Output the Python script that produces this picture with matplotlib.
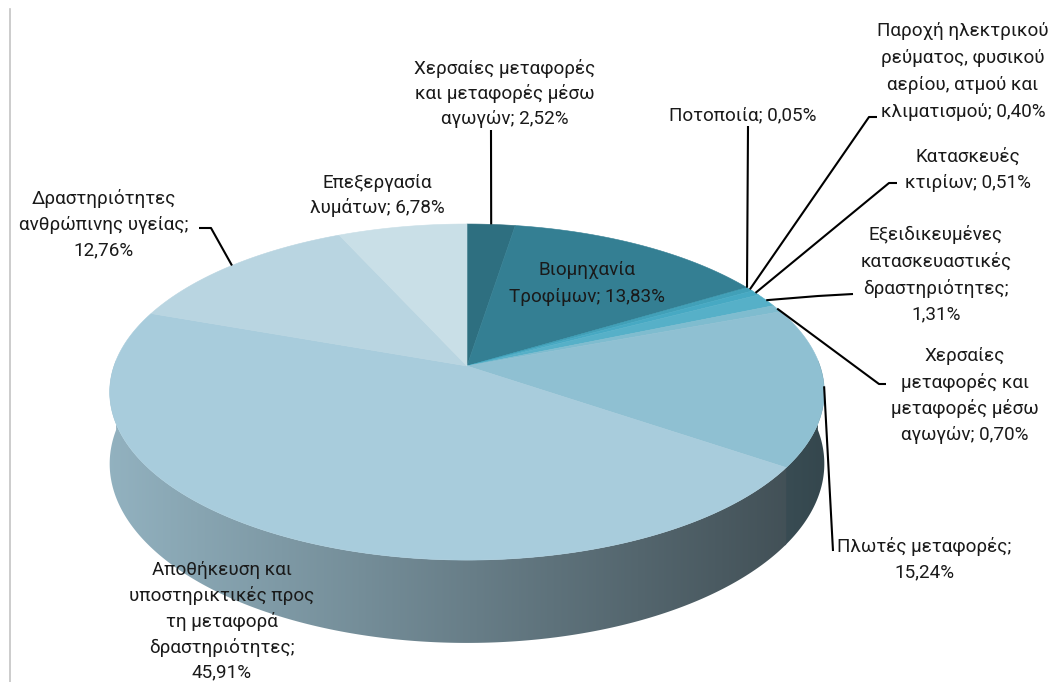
import numpy as np
import matplotlib
matplotlib.use("Agg")
import matplotlib.pyplot as plt
from matplotlib.patches import Polygon
from matplotlib.colors import to_rgb

# ---------------- data ----------------
categories = [
    "Χερσαίες μεταφορές και μεταφορές μέσω αγωγών",
    "Βιομηχανία Τροφίμων",
    "Ποτοποιία",
    "Παροχή ηλεκτρικού ρεύματος, φυσικού αερίου, ατμού και κλιματισμού",
    "Κατασκευές κτιρίων",
    "Εξειδικευμένες κατασκευαστικές δραστηριότητες",
    "Χερσαίες μεταφορές και μεταφορές μέσω αγωγών",
    "Πλωτές μεταφορές",
    "Αποθήκευση και υποστηρικτικές προς τη μεταφορά δραστηριότητες",
    "Δραστηριότητες ανθρώπινης υγείας",
    "Επεξεργασία λυμάτων",
]
values = [2.52, 13.83, 0.05, 0.40, 0.51, 1.31, 0.70, 15.24, 45.91, 12.76, 6.78]
pct_labels = ["2,52%", "13,83%", "0,05%", "0,40%", "0,51%", "1,31%",
              "0,70%", "15,24%", "45,91%", "12,76%", "6,78%"]
colors = ['#2e6f80', '#347f93', '#3c93a9', '#41a0b8', '#47a9c3', '#56b0c8',
          '#7fbccf', '#8fc0d2', '#a8ccdc', '#b9d5e1', '#c9dfe7']

# label text (line breaks as in the reference)
label_lines = [
    ["Χερσαίες μεταφορές", "και μεταφορές μέσω", "αγωγών; 2,52%"],
    ["Βιομηχανία", "Τροφίμων; 13,83%"],
    ["Ποτοποιία; 0,05%"],
    ["Παροχή ηλεκτρικού", "ρεύματος, φυσικού", "αερίου, ατμού και", "κλιματισμού; 0,40%"],
    ["Κατασκευές", "κτιρίων; 0,51%"],
    ["Εξειδικευμένες", "κατασκευαστικές", "δραστηριότητες;", "1,31%"],
    ["Χερσαίες", "μεταφορές και", "μεταφορές μέσω", "αγωγών; 0,70%"],
    ["Πλωτές μεταφορές;", "15,24%"],
    ["Αποθήκευση και", "υποστηρικτικές προς", "τη μεταφορά", "δραστηριότητες;", "45,91%"],
    ["Δραστηριότητες", "ανθρώπινης υγείας;", "12,76%"],
    ["Επεξεργασία", "λυμάτων; 6,78%"],
]
# label layout: (center x, first line y, line step) in pixels
label_pos = [
    (505, 68, 25.5),
    (587, 270, 27),
    (743, 115, 26),
    (963, 31, 27),
    (968, 157, 25.5),
    (936, 235, 26.5),
    (965, 356, 26.5),
    (924, 547, 25),
    (222, 570, 25.7),
    (104, 199, 25.5),
    (377, 183, 24.5),
]
# leader line elbow points (label side), None = no leader
leader_pts = [
    [(491, 130)],
    None,
    [(748, 126)],
    [(877, 117), (869, 117)],
    [(897, 183), (889, 183)],
    [(853, 294), (818, 296)],
    [(886, 384), (879, 384)],
    [(833, 551)],
    None,
    [(199, 228), (211, 228)],
    None,
]

# ---------------- geometry ----------------
W, H = 1058, 682
CX, CY, R, RY, K, T = 467, 366, 353, 164, 0.155, 70

def proj(theta_deg, drop=0.0):
    th = np.radians(theta_deg)
    u = np.sin(th)
    v = np.cos(th)
    w = 1 + K * v
    return CX + R * u / w, CY - RY * v / w + drop / w

fig = plt.figure(figsize=(W / 100, H / 100), dpi=100)
ax = fig.add_axes([0, 0, 1, 1])
ax.set_xlim(0, W)
ax.set_ylim(H, 0)
ax.axis('off')

vals = np.array(values)
cum = np.concatenate([[0], np.cumsum(vals)]) / vals.sum() * 360.0

# side wall (front half), shaded with a horizontal gradient
gx0, gx1 = CX - 370, CX + 370
gxs = np.linspace(gx0, gx1, 740)
s = np.clip((gxs - CX) / 357.0, -1, 1)
shade = 0.62 - 0.25 * s
for i in range(len(vals)):
    a0, a1 = max(cum[i], 88.0), min(cum[i + 1] + 0.5, 272.0)
    if a1 <= a0:
        continue
    ang = np.linspace(a0, a1, max(3, int((a1 - a0) / 0.3) + 2))
    xt, yt = proj(ang)
    xb, yb = proj(ang[::-1], T)
    pts = list(zip(xt, yt)) + list(zip(xb, yb))
    poly = Polygon(pts, closed=True, facecolor='none', edgecolor='none')
    ax.add_patch(poly)
    base = np.array(to_rgb(colors[i]))
    img = np.clip(shade[None, :, None] * base[None, None, :], 0, 1)
    im = ax.imshow(img, extent=(gx0, gx1, 700, 300), aspect='auto',
                   interpolation='bilinear', zorder=1)
    im.set_clip_path(poly)
ax.set_xlim(0, W)
ax.set_ylim(H, 0)

# top faces
for i in range(len(vals)):
    a0, a1 = cum[i], cum[i + 1]
    n = max(3, int((a1 - a0) / 0.3) + 2)
    ang = np.linspace(a0, a1, n)
    xs, ys = proj(ang)
    pts = [(CX, CY)] + list(zip(xs, ys))
    ax.add_patch(Polygon(pts, closed=True, facecolor=colors[i], edgecolor=colors[i],
                         linewidth=0.4, zorder=2))

# leaders
for i in range(len(vals)):
    if leader_pts[i] is None:
        continue
    mid = 0.5 * (cum[i] + cum[i + 1])
    ax_, ay_ = proj(mid)
    pts = leader_pts[i] + [(ax_, ay_)]
    ax.plot([p[0] for p in pts], [p[1] for p in pts], color='black', lw=1.5,
            solid_capstyle='butt', zorder=5)

# labels
FONT = ['Roboto', 'DejaVu Sans']
for i in range(len(vals)):
    x, y0, step = label_pos[i]
    for k, line in enumerate(label_lines[i]):
        ax.text(x, y0 + k * step, line, ha='center', va='center', fontsize=13.6,
                family=FONT, color='#1a1a1a', zorder=6)

# left chart border
ax.plot([9.5, 9.5], [9, H], color='#c4c4c4', lw=1.2)

fig.savefig('out.png', dpi=100)
